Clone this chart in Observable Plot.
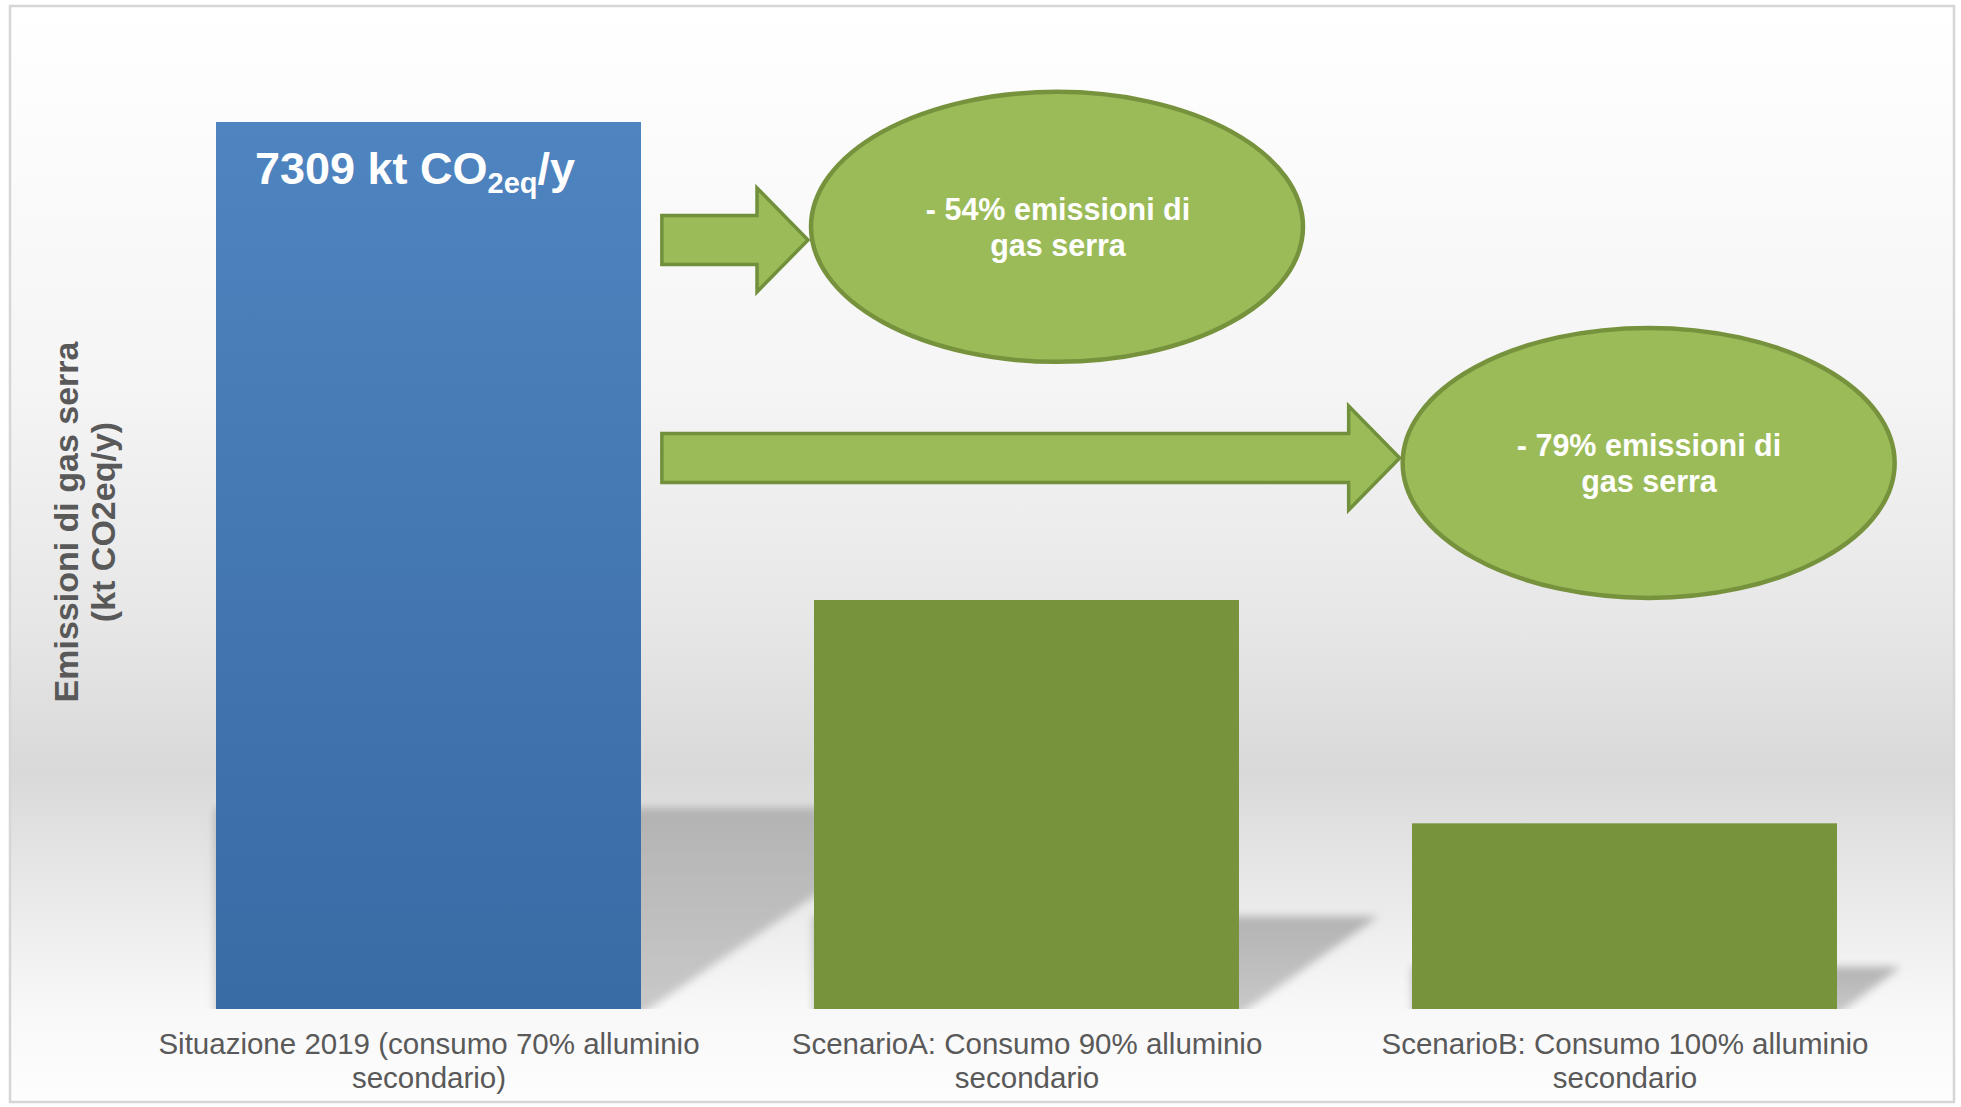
<!DOCTYPE html>
<html>
<head>
<meta charset="utf-8">
<script src="https://cdn.jsdelivr.net/npm/d3@7"></script>
<script src="https://cdn.jsdelivr.net/npm/@observablehq/plot@0.6"></script>
<style>
  html, body { margin: 0; padding: 0; background: #ffffff; }
  #chart svg { display: block; }
</style>
</head>
<body>
<div id="chart"></div>
<script>
// ---------- data ----------
const categories = ["Situazione 2019", "ScenarioA", "ScenarioB"];
const tickLabels = [
  "Situazione 2019 (consumo 70% alluminio\nsecondario)",
  "ScenarioA: Consumo 90% alluminio\nsecondario",
  "ScenarioB: Consumo 100% alluminio\nsecondario"
];
const emissions = [7309, 3370, 1530];           // kt CO2eq / y
const yTitle = "Emissioni di gas serra\n(kt CO2eq/y)";
const unitMain = "kt CO";
const unitSub = "2eq";
const unitTail = "/y";

// ---------- layout (not data) ----------
const W = 1961, H = 1107;
const FONT = "'Liberation Sans', Arial, Helvetica, sans-serif";
const calloutLevels = [6445, 4500];   // ellipse centres, in y units
const calloutOffsets = [31, 24];      // ellipse centre shift from band centre, px
const arrowLevels = [6337, 4540];     // arrow axes, in y units

const rows = categories.map((c, i) => ({cat: c, value: emissions[i], tick: tickLabels[i]}));
const base = rows[0];
const scenarios = rows.slice(1);
const callouts = scenarios.map((d, i) => ({
  cat: d.cat,
  level: calloutLevels[i],
  off: calloutOffsets[i],
  label: `- ${Math.round((1 - d.value / base.value) * 100)}% emissioni di\ngas serra`
}));
const tickByCat = new Map(rows.map(d => [d.cat, d.tick]));

const chart = Plot.plot({
  width: W,
  height: H,
  marginTop: 122,
  marginBottom: 98,
  marginLeft: 128,
  marginRight: 37,
  style: {background: "transparent", fontFamily: FONT, overflow: "visible"},
  x: {type: "band", domain: categories, paddingInner: 0.29, paddingOuter: 0.145, align: 0.5},
  y: {domain: [0, base.value], axis: null},
  marks: [
    Plot.barY([base], {x: "cat", y: "value", fill: "url(#blueGrad)", inset: 0}),
    Plot.barY(scenarios, {x: "cat", y: "value", fill: "#77933c", inset: 0}),
    Plot.axisX({
      tickSize: 0,
      tickPadding: 20,
      tickFormat: d => tickByCat.get(d),
      fontSize: 29.5,
      lineHeight: 34 / 29.5,
      fill: "#595959",
      label: null
    }),
    Plot.text([base], {
      x: "cat", y: "value",
      text: d => `${d.value} ${unitMain}${unitSub}${unitTail}`,
      fill: "#ffffff", fontSize: 45, fontWeight: "bold",
      textAnchor: "middle", lineAnchor: "bottom", dx: -14, dy: 61
    }),
    ...callouts.map(c => Plot.text([c], {
      x: "cat", y: "level", text: "label", dx: c.off, dy: -1,
      fill: "#ffffff", fontSize: 30.5, fontWeight: "bold",
      lineAnchor: "middle", lineHeight: 1.2
    })),
    Plot.text([yTitle], {
      frameAnchor: "left", text: d => d, rotate: -90,
      textAnchor: "middle",
      dx: -44, dy: -44, fontSize: 34, fontWeight: "bold",
      fill: "#595959", lineAnchor: "middle", lineHeight: 37 / 34
    })
  ]
});

document.getElementById("chart").appendChild(chart);

// ---------- decorations positioned with Plot's scales ----------
const sxD = chart.scale("x");
const syD = chart.scale("y");
const sx = d3.scaleBand().domain(sxD.domain).range(sxD.range)
  .paddingInner(sxD.paddingInner).paddingOuter(sxD.paddingOuter).align(sxD.align ?? 0.5);
const sy = d3.scaleLinear().domain(syD.domain).range(syD.range);
const bw = sx.bandwidth();
const y0 = sy(0);

const svg = d3.select(chart);
const defs = svg.insert("defs", ":first-child");

const blue = defs.append("linearGradient").attr("id", "blueGrad")
  .attr("x1", 0).attr("y1", 0).attr("x2", 0).attr("y2", 1);
blue.append("stop").attr("offset", 0).attr("stop-color", "#4e84c0");
blue.append("stop").attr("offset", 1).attr("stop-color", "#396ba5");

const bg = defs.append("linearGradient").attr("id", "bgGrad")
  .attr("gradientUnits", "userSpaceOnUse")
  .attr("x1", 0).attr("y1", 6).attr("x2", 0).attr("y2", 1102);
[[0, "#ffffff"], [0.07, "#fdfdfd"], [0.341, "#f5f5f5"], [0.56, "#e7e7e7"], [0.697, "#d9d9d9"],
 [0.915, "#f8f8f8"], [1, "#fdfdfd"]].forEach(([o, c]) =>
  bg.append("stop").attr("offset", o).attr("stop-color", c));

const shGrad = defs.append("linearGradient").attr("id", "shadowGrad")
  .attr("x1", 0).attr("y1", 0).attr("x2", 0).attr("y2", 1);
shGrad.append("stop").attr("offset", 0).attr("stop-color", "#b3b3b3");
shGrad.append("stop").attr("offset", 1).attr("stop-color", "#c9c9c9");

const blur = defs.append("filter").attr("id", "shBlur")
  .attr("x", "-20%").attr("y", "-20%").attr("width", "140%").attr("height", "140%");
blur.append("feGaussianBlur").attr("stdDeviation", 4);

defs.append("clipPath").attr("id", "floorClip")
  .append("rect").attr("x", 0).attr("y", 0).attr("width", W).attr("height", y0);

const deco = svg.insert("g", "g");

// background panel + frame
deco.append("rect").attr("x", 10).attr("y", 6).attr("width", 1944).attr("height", 1096)
  .attr("fill", "url(#bgGrad)").attr("stroke", "#d6d6d6").attr("stroke-width", 2.5);

// floor shadows of the bars
const shadowG = deco.append("g").attr("clip-path", "url(#floorClip)");
rows.forEach(d => {
  const xl = sx(d.cat), xr = xl + bw;
  const h = 0.227 * (y0 - sy(d.value));
  const off = 1.51 * h;
  const top = y0 - h;
  shadowG.append("path")
    .attr("d", `M${xl},${top}L${xr + off},${top}L${xr},${y0 + 6}L${xl},${y0 + 6}Z`)
    .attr("fill", "url(#shadowGrad)")
    .attr("filter", "url(#shBlur)");
});

// arrows and ellipses
const rx = 246, ry = 135;
callouts.forEach((c, i) => {
  const cx = sx(c.cat) + bw / 2 + c.off;
  const cy = sy(c.level);
  const ay = sy(arrowLevels[i]);
  const x0 = sx(base.cat) + bw + 22;
  const xt = cx - rx - 3;
  const xh = xt - 51;
  const bh = 24.5, hh = 52;
  deco.append("path")
    .attr("d", `M${x0},${ay - bh}L${xh},${ay - bh}L${xh},${ay - hh}L${xt},${ay}L${xh},${ay + hh}L${xh},${ay + bh}L${x0},${ay + bh}Z`)
    .attr("fill", "#9bbb59").attr("stroke", "#71903b").attr("stroke-width", 3.5)
    .attr("stroke-linejoin", "miter");
  deco.append("ellipse")
    .attr("cx", cx).attr("cy", cy).attr("rx", rx).attr("ry", ry)
    .attr("fill", "#9bbb59").attr("stroke", "#76923c").attr("stroke-width", 4.5);
});

// subscript in the value label
svg.selectAll("text").each(function () {
  const t = this.textContent;
  if (t === `${base.value} ${unitMain}${unitSub}${unitTail}`) {
    const sel = d3.select(this);
    sel.text(null);
    sel.append("tspan").text(`${base.value} ${unitMain}`);
    sel.append("tspan").attr("font-size", 29).attr("dy", 9).text(unitSub);
    sel.append("tspan").attr("font-size", 45).attr("dy", -9).text(unitTail);
  }
});
</script>
</body>
</html>
